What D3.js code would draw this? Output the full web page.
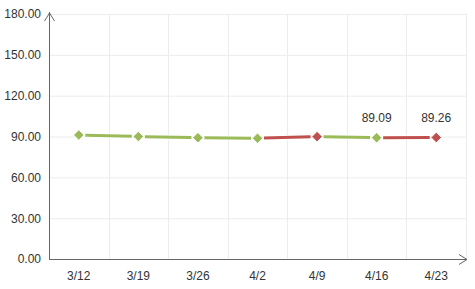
<html>
<head>
  <style type="text/css">
    body { margin: 0; background: #fff; }
    text { font-family: Arial, "Liberation Sans", sans-serif; font-size: 12px; fill: #333; }
  </style>
</head>
<body>
  <svg width="475" height="289"></svg>
  <script src="https://cdnjs.cloudflare.com/ajax/libs/d3/7.8.5/d3.min.js"></script>
  <script>
  // data
  const dates = ['3/12', '3/19', '3/26', '4/2', '4/9', '4/16', '4/23'];
  const values = [91.1, 90.0, 89.1, 88.7, 89.9, 89.09, 89.26];
  const yTicks = [0, 30, 60, 90, 120, 150, 180];
  const labelled = ['4/16', '4/23'];

  const green = '#9bbb59', red = '#c0504d';

  const svg = d3.select('svg'),
        margin = {top: 14, right: 9, bottom: 30, left: 49},
        width = +svg.attr('width') - margin.left - margin.right,
        height = +svg.attr('height') - margin.top - margin.bottom;

  const g = svg.append('g')
    .attr('transform', 'translate(' + margin.left + ',' + margin.top + ')');

  const x = d3.scaleBand().domain(dates).range([0, width]);
  const y = d3.scaleLinear().domain([0, 180]).range([height, 0]);

  // grid
  g.append('g').selectAll('line').data(yTicks.slice(1)).enter().append('line')
    .attr('x1', 0).attr('x2', width)
    .attr('y1', d => y(d) + 0.5).attr('y2', d => y(d) + 0.5)
    .attr('stroke', '#ececec');
  g.append('g').selectAll('line').data(dates).enter().append('line')
    .attr('x1', d => Math.round(x(d) + x.bandwidth()) + 0.5)
    .attr('x2', d => Math.round(x(d) + x.bandwidth()) + 0.5)
    .attr('y1', 0).attr('y2', height)
    .attr('stroke', '#ececec');

  // axes
  const yAxis = g.append('g')
    .call(d3.axisLeft(y).tickValues(yTicks).tickFormat(d3.format('.2f')).tickSize(0).tickPadding(8));
  yAxis.select('.domain').remove();
  yAxis.selectAll('text').style('font-size', '12px').attr('fill', '#333');

  const xAxis = g.append('g')
    .attr('transform', 'translate(0,' + height + ')')
    .call(d3.axisBottom(x).tickSize(0).tickPadding(12));
  xAxis.select('.domain').remove();
  xAxis.selectAll('text').style('font-size', '12px').attr('fill', '#333');

  const axisColor = '#666';
  g.append('path')
    .attr('d', 'M0.5,' + (height + 0.5) + 'V-2')
    .attr('stroke', axisColor).attr('fill', 'none');
  g.append('path')
    .attr('d', 'M-4.5,7L0.5,-1L5.5,7')
    .attr('stroke', axisColor).attr('fill', 'none');
  g.append('path')
    .attr('d', 'M0,' + (height + 0.5) + 'H' + (width + 1))
    .attr('stroke', axisColor).attr('fill', 'none');
  g.append('path')
    .attr('d', 'M' + (width - 7) + ',' + (height - 4.5) + 'L' + (width + 1) + ',' + (height + 0.5) + 'L' + (width - 7) + ',' + (height + 5.5))
    .attr('stroke', axisColor).attr('fill', 'none');

  const cx = d => x(d) + x.bandwidth() / 2;
  const pts = dates.map((d, i) => ({date: d, value: values[i],
    color: i > 0 && values[i] > values[i - 1] ? red : green}));

  // segments
  const gap = 6.5;
  const segs = pts.slice(1).map((p, i) => ({a: pts[i], b: p, color: p.color}));
  const segG = g.append('g');
  segG.selectAll('.halo').data(segs).enter().append('line')
    .attr('x1', d => cx(d.a.date)).attr('y1', d => y(d.a.value))
    .attr('x2', d => cx(d.b.date)).attr('y2', d => y(d.b.value))
    .attr('stroke', '#fff').attr('stroke-width', 5);
  segG.selectAll('.seg').data(segs).enter().append('line')
    .attr('x1', d => cx(d.a.date) + gap).attr('y1', d => y(d.a.value) + (y(d.b.value) - y(d.a.value)) * gap / x.bandwidth())
    .attr('x2', d => cx(d.b.date) - gap).attr('y2', d => y(d.b.value) - (y(d.b.value) - y(d.a.value)) * gap / x.bandwidth())
    .attr('stroke', d => d.color).attr('stroke-width', 3);

  // markers
  g.append('g').selectAll('path').data(pts).enter().append('path')
    .attr('d', d3.symbol().type(d3.symbolDiamond2).size(72))
    .attr('transform', d => 'translate(' + cx(d.date) + ',' + y(d.value) + ')')
    .attr('fill', d => d.color)
    .attr('stroke', '#fff').attr('stroke-width', 1);

  // value labels
  g.append('g').selectAll('text').data(pts.filter(p => labelled.includes(p.date))).enter().append('text')
    .attr('x', d => cx(d.date)).attr('y', d => y(d.value) - 16)
    .attr('text-anchor', 'middle')
    .text(d => d.value.toFixed(2));
  </script>
</body>
</html>
